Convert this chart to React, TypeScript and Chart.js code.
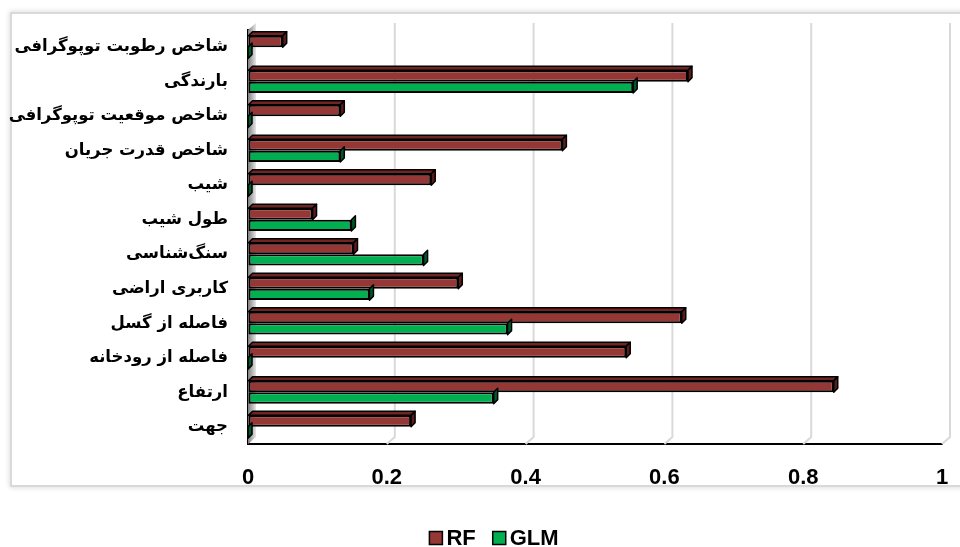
import React, { useEffect, useRef } from "react";
import { Chart, registerables } from "chart.js";

Chart.register(...registerables);

const categories = [
  "شاخص رطوبت توپوگرافی",
  "بارندگی",
  "شاخص موقعیت توپوگرافی",
  "شاخص قدرت جریان",
  "شیب",
  "طول شیب",
  "سنگ\u200cشناسی",
  "کاربری اراضی",
  "فاصله از گسل",
  "فاصله از رودخانه",
  "ارتفاع",
  "جهت",
];
const rfValues = [0.05, 0.634, 0.133, 0.453, 0.264, 0.093, 0.152, 0.303, 0.625, 0.545, 0.844, 0.235];
const glmValues = [0, 0.555, 0, 0.133, 0, 0.149, 0.253, 0.175, 0.374, 0, 0.354, 0];
const xTicks = [0, 0.2, 0.4, 0.6, 0.8, 1];
const seriesNames = ["RF", "GLM"];

const RF_COLOR = "#953735";
const GLM_COLOR = "#00B050";
const NUM_FONT = "'Liberation Sans Narrow', 'Liberation Sans', Arial, sans-serif";
const FA_FONT = "'DejaVu Sans', sans-serif";

const framePlugin = {
  id: "frame",
  beforeDraw(chart: any) {
    const { ctx, width, height } = chart;
    ctx.save();
    ctx.fillStyle = "#fff";
    ctx.fillRect(0, 0, width, height);
    ctx.shadowColor = "rgba(0,0,0,0.35)";
    ctx.shadowBlur = 5;
    ctx.strokeStyle = "#d4d4d4";
    ctx.lineWidth = 1.5;
    ctx.beginPath();
    ctx.moveTo(width + 10, 13);
    ctx.lineTo(11, 13);
    ctx.lineTo(11, 486);
    ctx.lineTo(width + 10, 486);
    ctx.stroke();
    ctx.shadowColor = "transparent";
    ctx.fillStyle = "#fff";
    ctx.fillRect(12, 14, width, 471);
    ctx.restore();
  },
};

const wallPlugin = {
  id: "wall",
  beforeDatasetsDraw(chart: any) {
    const { ctx, chartArea } = chart;
    const xs = chart.scales.x;
    const dx = 8, dy = 7;
    const top = chartArea.top - dy;
    const bottom = chartArea.bottom;
    ctx.save();
    ctx.strokeStyle = "#d9d9d9";
    ctx.lineWidth = 2;
    xTicks.forEach((v) => {
      if (v === 0) return;
      const px = xs.getPixelForValue(v);
      ctx.beginPath();
      ctx.moveTo(px + dx, top);
      ctx.lineTo(px + dx, bottom - dy);
      ctx.lineTo(px, bottom);
      ctx.stroke();
    });
    const x0 = xs.getPixelForValue(0);
    const g = ctx.createLinearGradient(x0, 0, x0 + dx, 0);
    g.addColorStop(0, "#7f7f7f");
    g.addColorStop(1, "#e6e6e6");
    ctx.fillStyle = g;
    ctx.beginPath();
    ctx.moveTo(x0, chartArea.top);
    ctx.lineTo(x0 + dx, top);
    ctx.lineTo(x0 + dx, bottom - dy);
    ctx.lineTo(x0, bottom);
    ctx.closePath();
    ctx.fill();
    ctx.restore();
  },
};

const bar3dPlugin = {
  id: "bar3d",
  afterDatasetsDraw(chart: any) {
    const { ctx } = chart;
    const d = 4;
    const tops = ["#6e2523", "#006b30"];
    const sides = ["#5a1c1b", "#005a28"];
    [1, 0].forEach((i) => {
      const meta = chart.getDatasetMeta(i);
      meta.data.forEach((el: any) => {
        const { x, y, base, height } = el.getProps(["x", "y", "base", "height"], true);
        const t = y - height / 2;
        const b = y + height / 2;
        ctx.save();
        ctx.strokeStyle = "#000";
        ctx.lineWidth = 1.5;
        ctx.lineJoin = "round";
        if (i === 0) {
          ctx.fillStyle = tops[i];
          ctx.beginPath();
          ctx.moveTo(base, t);
          ctx.lineTo(base + d, t - d);
          ctx.lineTo(x + d, t - d);
          ctx.lineTo(x, t);
          ctx.closePath();
          ctx.fill();
          ctx.stroke();
        }
        ctx.fillStyle = sides[i];
        ctx.beginPath();
        ctx.moveTo(x, t);
        ctx.lineTo(x + d, t - d);
        ctx.lineTo(x + d, b - d);
        ctx.lineTo(x, b);
        ctx.closePath();
        ctx.fill();
        ctx.stroke();
        ctx.restore();
      });
    });
  },
};

const legendPlugin = {
  id: "customLegend",
  afterDraw(chart: any) {
    const { ctx } = chart;
    const colors = [RF_COLOR, GLM_COLOR];
    ctx.save();
    ctx.font = `bold 22px ${NUM_FONT}`;
    ctx.textBaseline = "middle";
    const box = 13, gapBox = 4, gapItem = 17;
    const widths = seriesNames.map((n) => box + gapBox + ctx.measureText(n).width);
    const total = widths.reduce((a, b) => a + b, 0) + gapItem * (seriesNames.length - 1);
    let x = 494 - total / 2;
    const cy = 538;
    seriesNames.forEach((n, i) => {
      ctx.fillStyle = colors[i];
      ctx.fillRect(x, cy - box / 2, box, box);
      ctx.strokeStyle = "#000";
      ctx.lineWidth = 1.5;
      ctx.strokeRect(x, cy - box / 2, box, box);
      ctx.fillStyle = "#000";
      ctx.fillText(n, x + box + gapBox, cy + 1);
      x += widths[i] + gapItem;
    });
    ctx.restore();
  },
};

export default function App() {
  const ref = useRef<HTMLCanvasElement | null>(null);
  useEffect(() => {
    document.body.style.margin = "0";
    const canvas = ref.current!;
    const chart = new Chart(canvas, {
      type: "bar",
      data: {
        labels: categories,
        datasets: [
          {
            label: seriesNames[0],
            data: rfValues,
            backgroundColor: RF_COLOR,
            borderColor: "#000",
            borderWidth: 2,
            borderSkipped: false,
            categoryPercentage: 0.66,
            barPercentage: 1,
          },
          {
            label: seriesNames[1],
            data: glmValues,
            backgroundColor: GLM_COLOR,
            borderColor: "#000",
            borderWidth: 2,
            borderSkipped: false,
            categoryPercentage: 0.66,
            barPercentage: 1,
          },
        ],
      },
      options: {
        indexAxis: "y",
        animation: false,
        responsive: false,
        devicePixelRatio: 1,
        layout: { padding: { top: 27, right: 18, bottom: 47, left: 0 } },
        plugins: { legend: { display: false }, tooltip: { enabled: false } },
        scales: {
          x: {
            min: 0,
            max: 1,
            afterBuildTicks: (s: any) => {
              s.ticks = xTicks.map((v) => ({ value: v }));
            },
            ticks: {
              callback: (v: any) => String(v),
              color: "#000",
              font: { family: NUM_FONT, size: 22, weight: "bold" },
              padding: 0,
              maxRotation: 0,
            },
            grid: { display: true, color: "rgba(0,0,0,0)", drawOnChartArea: false, drawTicks: true, tickLength: 21 },
            border: { display: true, color: "#000", width: 2 },
            afterFit: (s: any) => {
              s.height = 56;
            },
          },
          y: {
            ticks: {
              color: "#000",
              font: { family: FA_FONT, size: 16.5, weight: "bold" },
              padding: 20,
            },
            grid: { display: false, drawTicks: false },
            border: { display: true, color: "#000", width: 2.5 },
            afterFit: (s: any) => {
              s.width = 248;
            },
          },
        },
      },
      plugins: [framePlugin, wallPlugin, bar3dPlugin, legendPlugin],
    } as any);
    return () => chart.destroy();
  }, []);
  return (
    <div style={{ width: 960, height: 547 }}>
      <canvas ref={ref} width={960} height={547} style={{ display: "block" }} />
    </div>
  );
}
